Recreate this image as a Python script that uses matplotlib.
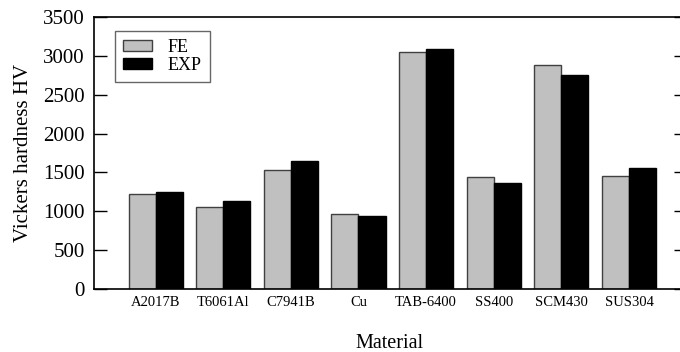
import matplotlib
matplotlib.use("Agg")
import matplotlib.pyplot as plt
import numpy as np

plt.rcParams['font.family'] = ['Liberation Serif', 'DejaVu Serif']

# hardness data
materials = ["A2017B", "T6061Al", "C7941B", "Cu", "TAB-6400", "SS400", "SCM430", "SUS304"]
hv_fe = [1225, 1060, 1530, 970, 3045, 1440, 2880, 1450]
hv_exp = [1250, 1130, 1645, 945, 3085, 1365, 2755, 1555]

x = np.arange(len(materials))
w = 0.4

fig = plt.figure(figsize=(6.8, 3.52), dpi=100)
ax = fig.add_axes([0.138, 0.179, 0.871, 0.773])

ax.bar(x - w / 2, hv_fe, w, color="#c0c0c0", edgecolor="#404040", linewidth=1.0, label="FE")
ax.bar(x + w / 2, hv_exp, w, color="black", edgecolor="black", linewidth=1.0, label="EXP")

ax.set_xlim(-0.913, 7.845)
ax.set_ylim(0, 3500)
ax.set_yticks(np.arange(0, 3501, 500))
ax.set_xticks(x)
ax.set_xticklabels(materials, fontsize=10.5)
ax.tick_params(axis="x", length=0, pad=5)
ax.tick_params(axis="y", direction="in", length=9, width=1, labelsize=15, right=True, pad=6.5)

for s in ax.spines.values():
    s.set_linewidth(1.2)

ax.set_xlabel("Material", fontsize=14.5, labelpad=18)
ax.set_ylabel("Vickers hardness HV", fontsize=15, labelpad=7)

leg = ax.legend(loc="upper left", bbox_to_anchor=(0.035, 0.949), borderaxespad=0,
                fontsize=13, fancybox=False, frameon=True, edgecolor="#404040",
                handlelength=1.6, handleheight=0.5, handletextpad=0.9,
                labelspacing=0.05, borderpad=0.45)
leg.get_frame().set_linewidth(1.0)

fig.savefig("out.png", dpi=100)
